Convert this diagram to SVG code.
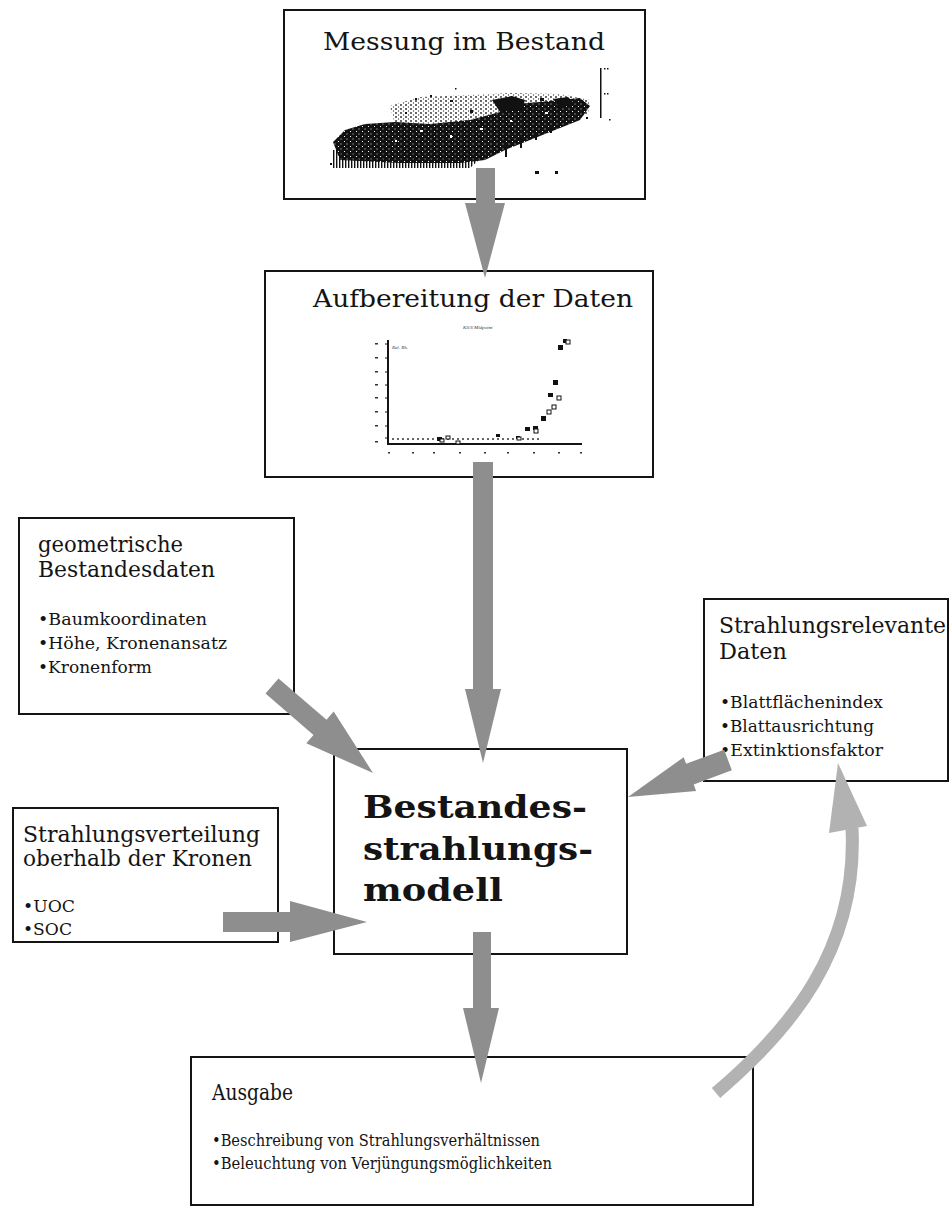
<svg xmlns="http://www.w3.org/2000/svg" width="951" height="1210" viewBox="0 0 951 1210">
<style>
.box{fill:#fff;stroke:#141414;stroke-width:2}
.t{font-family:"DejaVu Serif","Liberation Serif",serif;fill:#141414}
.h1{font-size:25px}
.h2{font-size:22px}
.b{font-size:16px}
.big{font-size:31px;font-weight:bold}
.arr{fill:#8e8e8e}
.arr2{fill:none;stroke:#b2b2b2;stroke-width:13}
.ax{stroke:#141414;stroke-width:2;fill:none}
.tiny{font-family:"Liberation Serif",serif;font-size:5px;font-style:italic;fill:#333}
</style>
<defs>
<pattern id="speck" width="5" height="4" patternUnits="userSpaceOnUse">
<circle cx="1" cy="1" r="0.9" fill="#222"/><circle cx="3.5" cy="3" r="0.7" fill="#444"/>
</pattern>
<pattern id="vl" width="3" height="6" patternUnits="userSpaceOnUse">
<rect x="0" y="0" width="1.4" height="6" fill="#111"/>
</pattern>
<pattern id="dense" width="6" height="5" patternUnits="userSpaceOnUse">
<rect width="6" height="5" fill="#111"/><rect x="2" y="1" width="1" height="1" fill="#fff"/><rect x="4.5" y="3.5" width="1" height="1" fill="#ddd"/>
</pattern>
</defs>
<rect width="951" height="1210" fill="#fff"/>

<g id="node-messung">
<rect class="box" x="284" y="10" width="361" height="189"/>
<text class="t h1" x="323" y="50" textLength="282" lengthAdjust="spacingAndGlyphs">Messung im Bestand</text>
<polygon points="390,106 420,97 470,95 510,93 560,94 590,100 588,115 540,118 480,122 430,125 395,125" fill="url(#speck)"/>
<polygon points="333,142 345,130 365,124 395,122 430,124 470,120 500,112 515,104 540,102 560,100 580,98 590,106 580,120 555,130 530,140 505,150 485,160 460,163 400,163 340,160" fill="url(#dense)"/>
<polygon points="492,100 512,96 525,100 522,110 500,112" fill="#111"/>
<polygon points="553,99 568,97 575,104 560,108" fill="#111"/>
<polygon points="333,150 490,150 470,168 333,168" fill="url(#vl)"/>
<g fill="#fff">
<rect x="420" y="130" width="3" height="2"/><rect x="450" y="135" width="2" height="3"/><rect x="480" y="128" width="3" height="2"/>
<rect x="395" y="140" width="2" height="2"/><rect x="510" y="120" width="2" height="2"/><rect x="545" y="112" width="3" height="2"/>
</g>
<g fill="#111">
<rect x="415" y="98" width="2" height="2"/><rect x="430" y="95" width="2" height="2"/><rect x="450" y="100" width="3" height="2"/>
<rect x="455" y="88" width="1.5" height="1.5"/><rect x="540" y="98" width="4" height="3"/>
<rect x="586" y="117" width="2" height="2"/><rect x="330" y="163" width="2" height="2"/>
<rect x="470" y="110" width="3" height="3"/><rect x="405" y="112" width="2" height="2"/><rect x="505" y="145" width="2" height="12"/>
<rect x="520" y="138" width="2" height="10"/><rect x="535" y="132" width="2" height="8"/><rect x="550" y="126" width="2" height="7"/>
<rect x="535" y="171" width="4" height="3"/><rect x="555" y="171" width="3" height="3"/>
<rect x="600" y="68" width="1.5" height="50"/><rect x="604" y="68" width="1.5" height="1.5"/><rect x="607" y="68" width="1.5" height="1.5"/>
<rect x="604" y="93" width="1.5" height="1.5"/><rect x="607" y="93" width="1.5" height="1.5"/><rect x="609" y="119" width="1.5" height="1.5"/>
</g>
</g>

<g id="node-aufbereitung">
<rect class="box" x="265" y="271" width="388" height="206"/>
<text class="t h1" x="313" y="307" textLength="320" lengthAdjust="spacingAndGlyphs">Aufbereitung der Daten</text>
<text class="tiny" x="463" y="329">KS/S Midpoint</text>
<text class="tiny" x="392" y="349">Rel. Rh.</text>
<polyline class="ax" points="388,340 388,444 582,444"/>
<g stroke="#141414" stroke-width="1">
<path d="M385,344h3M385,358h3M385,372h3M385,385h3M385,398h3M385,412h3M385,426h3M385,438h3"/>
</g>
<g fill="#333">
<rect x="375" y="343" width="3" height="1.5"/><rect x="375" y="357" width="3" height="1.5"/><rect x="375" y="371" width="3" height="1.5"/>
<rect x="375" y="384" width="3" height="1.5"/><rect x="375" y="397" width="3" height="1.5"/><rect x="375" y="411" width="3" height="1.5"/>
<rect x="375" y="425" width="3" height="1.5"/><rect x="375" y="441" width="3" height="1.5"/>
<rect x="388" y="452" width="2" height="1.5"/><rect x="412" y="452" width="2" height="1.5"/><rect x="433" y="452" width="2" height="1.5"/>
<rect x="459" y="452" width="2" height="1.5"/><rect x="484" y="452" width="2" height="1.5"/><rect x="507" y="452" width="2" height="1.5"/>
<rect x="533" y="452" width="2" height="1.5"/><rect x="558" y="452" width="2" height="1.5"/><rect x="580" y="452" width="2" height="1.5"/>
</g>
<path d="M392,439h148" stroke="#333" stroke-width="1.5" stroke-dasharray="2,3"/>
<g fill="#111">
<rect x="558" y="345" width="5" height="5"/><rect x="553" y="380" width="5" height="5"/><rect x="548" y="393" width="5" height="4"/>
<rect x="541" y="416" width="5" height="5"/><rect x="533" y="426" width="5" height="4"/><rect x="525" y="427" width="5" height="4"/>
<rect x="516" y="436" width="4" height="3"/><rect x="496" y="434" width="4" height="3"/><rect x="437" y="437" width="5" height="4"/>
<rect x="563" y="339" width="4" height="4"/>
</g>
<g fill="#fff" stroke="#111" stroke-width="1">
<rect x="566" y="340" width="4" height="4"/><rect x="557" y="396" width="4" height="4"/><rect x="552" y="405" width="4" height="4"/>
<rect x="547" y="410" width="4" height="4"/><rect x="534" y="429" width="4" height="4"/><rect x="517" y="437" width="4" height="3"/>
<rect x="440" y="439" width="4" height="3"/><rect x="456" y="441" width="4" height="3"/><rect x="446" y="436" width="4" height="3"/>
</g>
</g>

<g id="node-geometrisch">
<rect class="box" x="19" y="518" width="275" height="196"/>
<text class="t h2" x="38" y="552" textLength="145" lengthAdjust="spacingAndGlyphs">geometrische</text>
<text class="t h2" x="38" y="577" textLength="177" lengthAdjust="spacingAndGlyphs">Bestandesdaten</text>
<text class="t b" x="38" y="625" textLength="169" lengthAdjust="spacingAndGlyphs">•Baumkoordinaten</text>
<text class="t b" x="38" y="649" textLength="189" lengthAdjust="spacingAndGlyphs">•Höhe, Kronenansatz</text>
<text class="t b" x="38" y="673" textLength="114" lengthAdjust="spacingAndGlyphs">•Kronenform</text>
</g>

<g id="node-strahlungsrelevant">
<rect class="box" x="704" y="599" width="244" height="182"/>
<text class="t h2" x="719" y="633" textLength="227" lengthAdjust="spacingAndGlyphs">Strahlungsrelevante</text>
<text class="t h2" x="719" y="659" textLength="68" lengthAdjust="spacingAndGlyphs">Daten</text>
<text class="t b" x="720" y="708" textLength="163" lengthAdjust="spacingAndGlyphs">•Blattflächenindex</text>
<text class="t b" x="720" y="732" textLength="154" lengthAdjust="spacingAndGlyphs">•Blattausrichtung</text>
<text class="t b" x="720" y="756" textLength="163" lengthAdjust="spacingAndGlyphs">•Extinktionsfaktor</text>
</g>

<g id="node-modell">
<rect class="box" x="334" y="749" width="293" height="205"/>
<text class="t big" x="363" y="818" textLength="224" lengthAdjust="spacingAndGlyphs">Bestandes-</text>
<text class="t big" x="363" y="860" textLength="230" lengthAdjust="spacingAndGlyphs">strahlungs-</text>
<text class="t big" x="363" y="901" textLength="140" lengthAdjust="spacingAndGlyphs">modell</text>
</g>

<g id="node-strahlungsverteilung">
<rect class="box" x="13" y="808" width="265" height="134"/>
<text class="t h2" x="23" y="842" textLength="237" lengthAdjust="spacingAndGlyphs">Strahlungsverteilung</text>
<text class="t h2" x="23" y="866" textLength="229" lengthAdjust="spacingAndGlyphs">oberhalb der Kronen</text>
<text class="t b" x="23" y="912" textLength="52" lengthAdjust="spacingAndGlyphs">•UOC</text>
<text class="t b" x="23" y="935" textLength="49" lengthAdjust="spacingAndGlyphs">•SOC</text>
</g>

<g id="node-ausgabe">
<rect class="box" x="191" y="1057" width="562" height="148"/>
<text class="t h2" x="212" y="1100" textLength="81" lengthAdjust="spacingAndGlyphs">Ausgabe</text>
<text class="t b" x="212" y="1146" textLength="328" lengthAdjust="spacingAndGlyphs">•Beschreibung von Strahlungsverhältnissen</text>
<text class="t b" x="212" y="1169" textLength="340" lengthAdjust="spacingAndGlyphs">•Beleuchtung von Verjüngungsmöglichkeiten</text>
</g>

<g id="connectors">
<polygon class="arr" points="476,168 495,168 495,203 505,203 485,278 465,203 476,203"/>
<polygon class="arr" points="473,462 493,462 493,689 501,689 483,763 465,689 473,689"/>
<polygon class="arr" points="473,932 491,932 491,1008 499,1008 481,1083 463,1008 473,1008"/>
<polygon class="arr" points="223,912 290,912 290,901 367,922 290,942 290,932 223,932"/>
<polygon class="arr" points="278.5,678.4 326.5,719.7 333.7,711.4 373,773 306.3,743.2 313.5,734.9 265.5,693.6"/>
<polygon class="arr" points="724.2,749.7 686.1,763.8 683.7,757.2 628,797 696.1,791 693.7,784.4 731.8,770.3"/>
<path class="arr2" d="M716,1093 C790,1030 858,950 852,828"/>
<polygon fill="#b2b2b2" points="829,833 867,826 838,763"/>
</g>
</svg>
